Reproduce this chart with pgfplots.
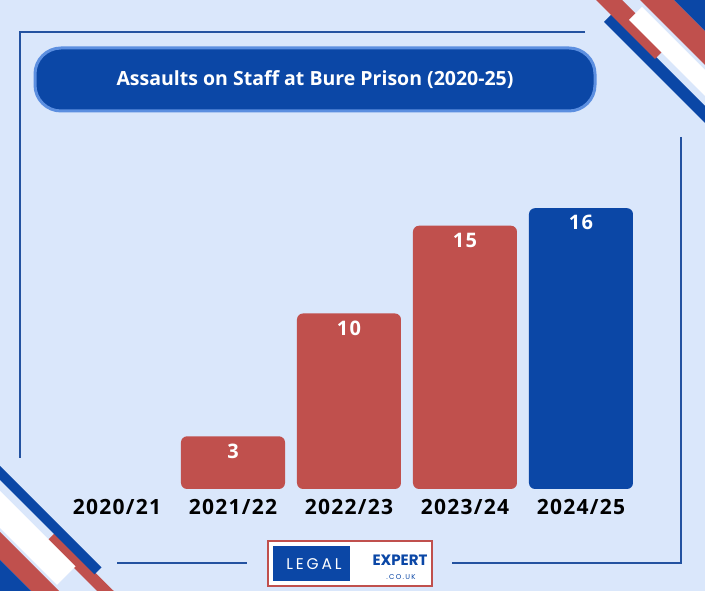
\documentclass[border=0pt]{standalone}
\usepackage{pgfplots}
\pgfplotsset{compat=1.18}
\usepackage{pgfplotstable}
\usepackage{fontspec}
\setmainfont{Open Sans}
\newfontfamily\logofont[LetterSpace=18]{Poppins}
\newfontfamily\expertfont{Poppins}
\newfontfamily\tickfont[LetterSpace=6]{Open Sans}
\definecolor{bg}{HTML}{DAE7FB}
\definecolor{cred}{HTML}{C0504D}
\definecolor{cblue}{HTML}{0B47A6}
\definecolor{framec}{HTML}{2352A0}
\definecolor{titleborder}{HTML}{5C8FE0}

\pgfplotstableread{
x y
1 3
2 10
3 15
}\redbars
\pgfplotstableread{
x y
4 16
}\bluebars

\begin{document}
\begin{tikzpicture}[x=1pt,y=1pt]
\useasboundingbox (0,0) rectangle (705,591);
\clip (0,0) rectangle (705,591);
\fill[bg] (0,0) rectangle (705,591);
\begin{scope}[yshift=591pt,yscale=-1]
  % top-right stripes
  \fill[cblue] (604,22) -- (612.5,13.5) -- (749.5,150.5) -- (741,159) -- cycle;
  \fill[cred] (586,-10) -- (612,-10) -- (668,46) -- (655,59) -- cycle;
  \fill[white] (629,20) -- (642,7) -- (767.5,132.5) -- (754.5,145.5) -- cycle;
  \fill[cred] (630,-10) -- (664,-10) -- (834,160) -- (800,160) -- cycle;
  \fill[cblue] (664,-10) -- (720,-10) -- (720,46) -- cycle;
  % bottom-left stripes
  \fill[cred] (55,533) -- (47,541) -- (116,610) -- (133,610) -- cycle;
  \fill[cblue] (-10,456) -- (101.5,567.5) -- (94.5,574.5) -- (-10,470) -- cycle;
  \fill[white] (-10,481) -- (75.5,566.5) -- (57,585) -- (-10,518) -- cycle;
  \fill[cred] (-10,522) -- (79,611) -- (51,611) -- (-10,550) -- cycle;
  \fill[cblue] (-10,550) -- (51,611) -- (-10,611) -- cycle;
  % frame lines
  \draw[framec, line width=1.4pt] (585,32) -- (20,32) -- (20,458);
  \draw[framec, line width=1.4pt] (681,137) -- (681,563) -- (452,563);
  \draw[framec, line width=1.4pt] (117,563) -- (247,563);
  % title box
  \draw[titleborder, line width=3pt, fill=cblue, rounded corners=26pt] (35,48) rectangle (595,111);
  \node[text=white, font=\fontsize{19.5}{23}\selectfont\bfseries] at (315,79.5) {Assaults on Staff at Bure Prison (2020-25)};
  % logo
  \draw[cred, line width=1.5pt, fill=white] (268,541) rectangle (432,586);
  \fill[cblue] (273,546) rectangle (350,581);
  \node[text=white, font=\logofont\fontsize{15.5}{18}\selectfont] at (314,564) {LEGAL};
  \node[text=cblue, font=\expertfont\fontsize{15}{18}\selectfont\bfseries] at (400,560) {EXPERT};
  \node[text=cblue, font=\logofont\fontsize{7}{9}\selectfont] at (401,577.5) {.CO.UK};
\end{scope}
\begin{axis}[
  at={(59pt,102pt)}, anchor=south west, scale only axis,
  width=580pt, height=315.9pt,
  xmin=-0.5, xmax=4.5, ymin=0.4, ymax=18.4,
  axis line style={draw=none},
  ytick=\empty,
  xtick={0,1,2,3,4},
  xticklabels={2020/21,2021/22,2022/23,2023/24,2024/25},
  major tick length=0pt,
  xticklabel style={font=\tickfont\fontsize{21}{24}\selectfont\bfseries, inner sep=0pt, yshift=-10pt, text=black},
  ybar, bar width=104pt,
  y filter/.expression={y+0.4},
  point meta=rawy,
  /pgf/number format/assume math mode=true,
  nodes near coords,
  nodes near coords align={below},
  every node near coord/.append style={anchor=north, inner sep=0pt, yshift=-7pt, text=white, font=\tickfont\fontsize{20}{24}\selectfont\bfseries},
]
\addplot[draw=none, fill=cred, bar shift=0pt, rounded corners=6pt] table[x=x,y=y] {\redbars};
\addplot[draw=none, fill=cblue, bar shift=0pt, rounded corners=6pt] table[x=x,y=y] {\bluebars};
\end{axis}
\end{tikzpicture}
\end{document}
